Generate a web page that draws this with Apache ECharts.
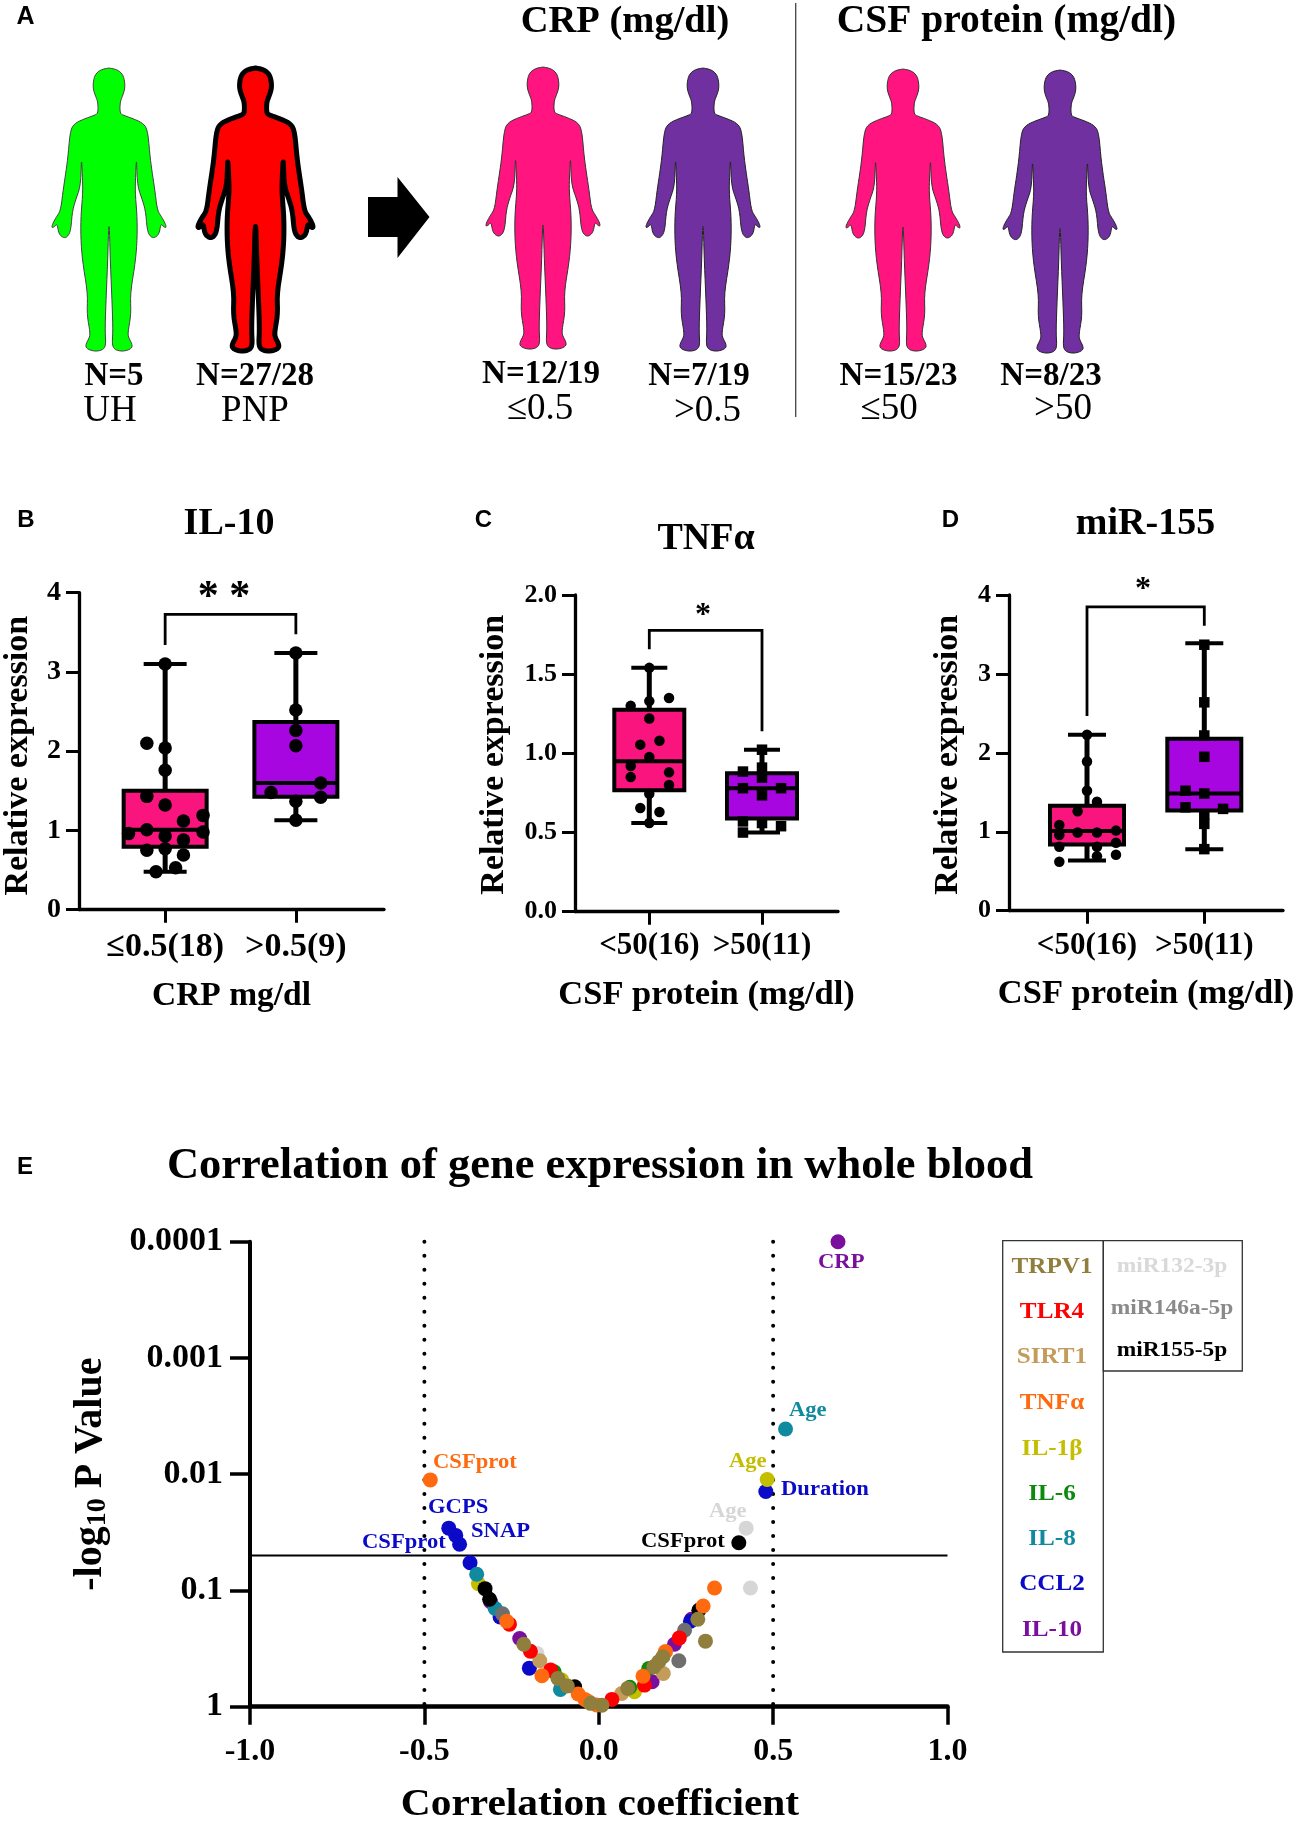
<!DOCTYPE html>
<html><head><meta charset="utf-8">
<style>html,body{margin:0;padding:0;background:#fff}#c{width:1299px;height:1823px}</style>
<script src="https://cdn.jsdelivr.net/npm/echarts@6/dist/echarts.min.js"></script>
</head><body><div id="c"></div>
<script>
// ---------- DATA ----------
const il10Categories = ['≤0.5(18)', '>0.5(9)'];
const tnfCategories = ['<50(16)', '>50(11)'];
const mirCategories = ['<50(16)', '>50(11)'];

// [group, min, q1, median, q3, max]
const il10Boxes = [[1, 0.48, 0.795, 1.01, 1.50, 3.10], [2, 1.13, 1.425, 1.60, 2.37, 3.24]];
const tnfBoxes = [[1, 0.56, 0.767, 0.95, 1.275, 1.54], [2, 0.50, 0.588, 0.78, 0.875, 1.023]];
const mirBoxes = [[1, 0.635, 0.84, 1.01, 1.33, 2.23], [2, 0.78, 1.27, 1.485, 2.18, 3.39]];

const il10Low = [[1,3.10],[1,2.04],[0.86,2.10],[1,1.76],[0.86,1.43],[1,1.32],[1.14,1.12],[1.29,1.19],[0.86,1.01],[0.72,0.96],[1.29,0.98],[1,0.93],[1.14,0.88],[0.86,0.75],[1,0.77],[1.14,0.69],[0.93,0.48],[1.08,0.53]];
const il10High = [[2,3.24],[2,2.52],[2,2.26],[2,2.07],[2.19,1.60],[1.81,1.48],[2.19,1.42],[2,1.37],[2,1.13]];
const tnfLow = [[1,1.54],[1,1.33],[1.175,1.35],[0.835,1.30],[1,1.22],[0.92,1.055],[1.09,1.08],[1,0.977],[0.835,0.92],[0.835,0.85],[1.175,0.88],[1.175,0.80],[1,0.745],[0.92,0.655],[1.09,0.63],[1,0.56]];
const tnfHigh = [[2,1.023],[2,0.91],[1.831,0.885],[2,0.847],[1.831,0.78],[2.169,0.78],[2,0.735],[1.831,0.57],[2,0.56],[2.169,0.54],[1.831,0.50]];
const mirLow = [[1,2.23],[1,1.89],[1,1.52],[1.085,1.38],[0.92,1.26],[0.764,1.085],[0.764,0.96],[0.92,0.99],[1.085,0.99],[1.247,1.015],[0.764,0.81],[1.085,0.81],[1.247,0.86],[1.085,0.69],[1.247,0.71],[0.764,0.62]];
const mirHigh = [[2,3.37],[2,2.64],[2,2.22],[2,1.95],[1.84,1.52],[2,1.485],[1.84,1.31],[2.16,1.29],[2,1.22],[2,1.10],[2,0.78]];

const il10Bracket = [[1,3.34],[1,3.727],[2,3.727],[2,3.475]];
const tnfBracket = [[1,1.657],[1,1.776],[2,1.776],[2,1.14]];
const mirBracket = [[1,2.466],[1,3.85],[2,3.85],[2,3.61]];

// [correlation coefficient, P value]
const miR132 = [[0.4227,0.0291],[0.435,0.0953],[-0.177,0.348]];
const miR146a = [[-0.276,0.159],[0.2296,0.403],[0.246,0.22]];
const miR155 = [[-0.326,0.0965],[-0.313,0.119],[-0.069,0.673],[0.287,0.148],[0.4016,0.0389]];
const il10 = [[-0.2266,0.259],[-0.31,0.125],[0.153,0.61],[0.217,0.29],[0.266,0.177],[0.686,0.0001]];
const ccl2 = [[-0.43,0.0291],[-0.41,0.0336],[-0.399,0.0401],[-0.369,0.0578],[-0.283,0.169],[-0.199,0.466],[0.263,0.184],[0.479,0.0141]];
const il8 = [[-0.35,0.0726],[-0.297,0.143],[-0.11,0.71],[0.5356,0.00408]];
const il6 = [[-0.128,0.5],[0.089,0.68],[0.1435,0.469]];
const il1b = [[-0.345,0.0875],[-0.106,0.59],[0.1024,0.743],[0.483,0.0111]];
const sirt1 = [[-0.169,0.403],[-0.03,0.9],[0.066,0.769],[0.185,0.518],[0.191,0.337]];
const tlr4 = [[-0.256,0.195],[-0.196,0.333],[-0.138,0.484],[0.0377,0.865],[0.131,0.652],[0.231,0.256]];
const tnfa = [[-0.483,0.0112],[-0.264,0.184],[-0.163,0.542],[-0.059,0.778],[-0.04,0.865],[-0.006,0.968],[0.127,0.546],[0.191,0.337],[0.2993,0.136],[0.332,0.0953]];
const trpv1 = [[-0.215,0.29],[-0.117,0.571],[-0.09,0.664],[-0.023,0.936],[0.009,0.97],[0.083,0.696],[0.158,0.454],[0.172,0.411],[0.184,0.372],[0.284,0.177],[0.306,0.273]];
const threshold = 0.05;
const rCuts = [-0.5, 0.5];
const pTicks = [0.0001, 0.001, 0.01, 0.1, 1];

// ---------- STYLE / LAYOUT ----------
const SERIF = '"Liberation Serif","Times New Roman",serif';
const SANS = '"Liberation Sans",Arial,sans-serif';
const PINK = '#F9147E', VIOLET = '#A806E0';
const geneColors = {TRPV1:'#8F7E3C',TLR4:'#FF0000',SIRT1:'#C39B5A',TNFa:'#FF6A10',IL1b:'#C4BE00',IL6:'#0B8A0B',IL8:'#108A9E',CCL2:'#0A0AC8',IL10:'#7A0F9E',miR132:'#D6D6D6',miR146:'#6E6E6E',miR155:'#000000'};

const grids = [], xAxes = [], yAxes = [], series = [], gfx = [];

function boxSeries(gi, boxes, colors, half, capHalf, lw) {
  return {
    type:'custom', xAxisIndex:gi, yAxisIndex:gi, data:boxes, clip:false, z:2,
    encode:{x:0, y:[1,2,3,4,5]},
    renderItem(params, api) {
      const x = api.value(0);
      const P = v => api.coord([x, v]);
      const lo = P(api.value(1)), q1 = P(api.value(2)), med = P(api.value(3)), q3 = P(api.value(4)), hi = P(api.value(5));
      const cx = lo[0];
      const ln = (x1,y1,x2,y2,w) => ({type:'line', shape:{x1,y1,x2,y2}, style:{stroke:'#000', lineWidth:w, fill:null}});
      return {type:'group', children:[
        ln(cx,hi[1],cx,lo[1],lw+1),
        ln(cx-capHalf,hi[1],cx+capHalf,hi[1],lw),
        ln(cx-capHalf,lo[1],cx+capHalf,lo[1],lw),
        {type:'rect', shape:{x:cx-half,y:q3[1],width:half*2,height:q1[1]-q3[1]}, style:{fill:colors[params.dataIndex], stroke:'#000', lineWidth:lw}},
        ln(cx-half,med[1],cx+half,med[1],lw)
      ]};
    }
  };
}

function boxPanel(cfg) {
  const gi = grids.length;
  const u = cfg.unit;
  grids.push({left:cfg.left, top:cfg.top, width:cfg.right-cfg.left, height:cfg.bottom-cfg.top});
  xAxes.push({gridIndex:gi, type:'value', min:1-(cfg.t1-cfg.left)/u, max:1+(cfg.right-cfg.t1)/u,
    name:cfg.xName, nameLocation:'middle', nameGap:cfg.xNameGap,
    nameTextStyle:{fontFamily:SERIF, fontWeight:'bold', fontSize:cfg.xNameSize, color:'#000'},
    axisLine:{onZero:false, lineStyle:{color:'#000', width:3.3}},
    axisTick:{customValues:[1,2], length:13, lineStyle:{color:'#000', width:3}},
    axisLabel:{customValues:[1,2], margin:cfg.xMargin, fontFamily:SERIF, fontWeight:'bold', fontSize:cfg.xLabelSize, color:'#000', formatter:v=>cfg.cats[Math.round(v)-1]},
    splitLine:{show:false}});
  yAxes.push({gridIndex:gi, type:'value', min:0, max:cfg.yMax, interval:cfg.yInt,
    name:'Relative expression', nameLocation:'middle', nameGap:cfg.yNameGap,
    nameTextStyle:{fontFamily:SERIF, fontWeight:'bold', fontSize:34, color:'#000', padding:[0,cfg.yNamePad,0,0]},
    axisLine:{onZero:false, lineStyle:{color:'#000', width:3.3}},
    axisTick:{length:13, lineStyle:{color:'#000', width:3}},
    axisLabel:{margin:18, fontFamily:SERIF, fontWeight:'bold', fontSize:cfg.yLabelSize, color:'#000', formatter:v=>cfg.yFix?v.toFixed(1):String(v)},
    splitLine:{show:false}});
  series.push(boxSeries(gi, cfg.boxes, [PINK, VIOLET], cfg.half, cfg.cap, cfg.lw));
  series.push({type:'scatter', xAxisIndex:gi, yAxisIndex:gi, data:cfg.low, symbol:'circle', symbolSize:cfg.sym, itemStyle:{color:'#000',opacity:1}, z:5, clip:false});
  series.push({type:'scatter', xAxisIndex:gi, yAxisIndex:gi, data:cfg.high, symbol:cfg.highSym, symbolSize:cfg.highSize, itemStyle:{color:'#000',opacity:1}, z:5, clip:false});
  series.push({type:'line', xAxisIndex:gi, yAxisIndex:gi, data:cfg.bracket, showSymbol:false, symbol:'none', clip:false, lineStyle:{color:'#000', width:cfg.brw, join:'miter'}, z:3});
}

boxPanel({left:76,right:384,top:592.7,bottom:909.7,t1:163,unit:132,cats:il10Categories,xName:'CRP mg/dl',xNameGap:70,xNameSize:33.5,xMargin:21,xLabelSize:34,yMax:4,yInt:1,yNameGap:44,yNamePad:9,yLabelSize:28,boxes:il10Boxes,low:il10Low,high:il10High,highSym:'circle',highSize:13.5,sym:13.5,half:41.5,cap:21.5,lw:4,brw:2.8,bracket:il10Bracket});
boxPanel({left:575,right:838,top:595,bottom:911.7,t1:649.3,unit:112.7,cats:tnfCategories,xName:'CSF protein (mg/dl)',xNameGap:66,xNameSize:34.5,xMargin:19,xLabelSize:31,yMax:2,yInt:0.5,yFix:true,yNameGap:64,yNamePad:3,yLabelSize:26,boxes:tnfBoxes,low:tnfLow,high:tnfHigh,highSym:'rect',highSize:10.5,sym:10.5,half:35,cap:18,lw:4,brw:2.8,bracket:tnfBracket});
boxPanel({left:1009,right:1283,top:595,bottom:910.7,t1:1087,unit:117.3,cats:mirCategories,xName:'CSF protein (mg/dl)',xNameGap:66,xNameSize:34.5,xMargin:20,xLabelSize:31,yMax:4,yInt:1,yNameGap:44,yNamePad:4,yLabelSize:26,boxes:mirBoxes,low:mirLow,high:mirHigh,highSym:'rect',highSize:10.5,sym:10.5,half:37,cap:19,lw:4,brw:2.8,bracket:mirBracket});

// ---------- PANEL E ----------
(function(){
  const gi = grids.length;
  grids.push({left:250, right:1299-947.5, top:1241.7, height:465});
  xAxes.push({gridIndex:gi, type:'value', min:-1, max:1, interval:0.5,
    axisLine:{onZero:false, lineStyle:{color:'#000', width:4.5}},
    axisTick:{length:18, lineStyle:{color:'#000', width:3.5}},
    axisLabel:{margin:29, fontFamily:SERIF, fontWeight:'bold', fontSize:32, color:'#000', formatter:v=>v.toFixed(1)},
    splitLine:{show:false}});
  yAxes.push({gridIndex:gi, type:'log', logBase:10, inverse:true, min:pTicks[0], max:pTicks[pTicks.length-1],
    name:'{m|-log}{s|10}{m| P Value}', nameLocation:'middle', nameGap:138, nameRotate:90,
    nameTextStyle:{rich:{m:{fontFamily:SERIF, fontWeight:'bold', fontSize:40, color:'#000'}, s:{fontFamily:SERIF, fontWeight:'bold', fontSize:28, color:'#000', verticalAlign:'bottom', padding:[14,0,0,0]}}},
    axisLine:{onZero:false, lineStyle:{color:'#000', width:4}},
    axisTick:{length:20, lineStyle:{color:'#000', width:3.5}},
    minorTick:{show:false},
    axisLabel:{margin:27, fontFamily:SERIF, fontWeight:'bold', fontSize:34, color:'#000', formatter:v=>String(+Number(v).toPrecision(1))},
    splitLine:{show:false}});
  // threshold and its tick
  series.push({type:'line', xAxisIndex:gi, yAxisIndex:gi, clip:false, symbol:'none', z:1, data:[[-1,threshold],[1,threshold]], lineStyle:{color:'#000',width:2}});
  series.push({type:'line', xAxisIndex:gi, yAxisIndex:gi, clip:false, symbol:'none', z:1, data:[[-1.06,threshold],[-1,threshold]], lineStyle:{color:'#000',width:3.5}});
  rCuts.forEach(r=>series.push({type:'line', xAxisIndex:gi, yAxisIndex:gi, clip:false, symbol:'none', z:1, data:[[r,pTicks[0]],[r,pTicks[4]]], lineStyle:{color:'#000',width:4,type:[0.01,14],cap:'round'}}));
  [[miR132,'miR132'],[il10,'IL10'],[ccl2,'CCL2'],[il1b,'IL1b'],[il6,'IL6'],[il8,'IL8'],[miR146a,'miR146'],[miR155,'miR155'],[sirt1,'SIRT1'],[tlr4,'TLR4'],[tnfa,'TNFa'],[trpv1,'TRPV1']].forEach(([d,k],i)=>{
    series.push({type:'scatter', name:k, xAxisIndex:gi, yAxisIndex:gi, data:d, symbol:'circle', symbolSize:15, clip:false, z:4, itemStyle:{color:geneColors[k],opacity:1}});
  });
})();

// ---------- GRAPHIC: text & panel A ----------
function T(text,x,y,size,opt){opt=opt||{};gfx.push({type:'text',silent:true,x,y,z:20,scaleX:opt.sx||1,style:{text,font:(opt.weight||'bold')+' '+size+'px '+(opt.family||SERIF),fill:opt.color||'#000',textAlign:opt.align||'center',textVerticalAlign:'middle'}});}

// panel letters
T('A',25.5,17.5,25,{family:SANS});T('B',26,520.5,24,{family:SANS});T('C',483.5,520.5,24,{family:SANS});T('D',950.5,520.5,24,{family:SANS});T('E',25,1167,24,{family:SANS});
// titles
T('IL-10',229,524,38);T('TNFα',706,539,38);T('miR-155',1145.5,524,38);
T('Correlation of gene expression in whole blood',600,1166,44.5);
T('Correlation coefficient',600,1805,38,{sx:1.09});
// stars
T('* *',224,598,42);T('*',703,616,32);T('*',1143,590,32);
// A headers
T('CRP (mg/dl)',625,22,38.5);T('CSF protein (mg/dl)',1006.5,22,39.5);
[['N=5',114,376],['N=27/28',255,376],['N=12/19',541,374],['N=7/19',699,376.5],['N=15/23',898.5,376],['N=8/23',1051,376]].forEach(a=>T(a[0],a[1],a[2],33));
[['UH',110,411],['PNP',255,411],['≤0.5',540,409],['>0.5',707.5,411],['≤50',889,409],['>50',1063,409]].forEach(a=>T(a[0],a[1],a[2],37,{weight:'normal'}));
gfx.push({type:'line',silent:true,shape:{x1:795.7,y1:3,x2:795.7,y2:417},style:{stroke:'#444',lineWidth:1.3}});
// arrow
gfx.push({type:'polygon',silent:true,shape:{points:[[368,197],[397.5,197],[397.5,177],[429.5,217],[397.5,258],[397.5,237],[368,237]]},style:{fill:'#000'}});

// body outline (right half, relative to centre line, top of head = 0)
const half=[[0,0],[8,1.5],[13.5,6],[15.6,13],[15.8,21],[13,29],[11,34],[10.8,45],[14,47],[24,50.5],[34,55],[38.5,62],[40.7,88],[43,105],[45.6,122],[48,142],[52,148],[56,155],[57,159.5],[54,158],[51.5,155],[50,165],[46,169],[42,169],[38,163],[36.5,143],[33,131],[28,117],[27.4,87],[26.3,110],[26,125],[28,148],[28,172],[26,195],[21,225],[22,245],[19,262],[19,268],[23.5,276],[22,280],[14,282.5],[6,281],[3,276],[4,262],[3,232],[1.2,190],[0.4,158]];
const outline=half.concat(half.slice().reverse().map(p=>[-p[0],p[1]]));
const bodyPts=(function(){
  const n=outline.length, out=[];
  const mid=(a,b)=>[(a[0]+b[0])/2,(a[1]+b[1])/2];
  for(let i=0;i<n;i++){
    const c=outline[i], a=mid(outline[(i-1+n)%n],c), b=mid(c,outline[(i+1)%n]);
    for(let k=0;k<4;k++){const t=k/4,u=1-t;out.push([u*u*a[0]+2*u*t*c[0]+t*t*b[0],u*u*a[1]+2*u*t*c[1]+t*t*b[1]]);}
  }
  return out;
})();
const bx0=Math.min(...bodyPts.map(p=>p[0])),bx1=Math.max(...bodyPts.map(p=>p[0])),by0=Math.min(...bodyPts.map(p=>p[1])),by1=Math.max(...bodyPts.map(p=>p[1]));
function body(x,y,w,h,fill,stroke,lw){gfx.push({type:'polygon',silent:true,shape:{points:bodyPts.map(p=>[x+(p[0]-bx0)/(bx1-bx0)*w,y+(p[1]-by0)/(by1-by0)*h])},style:{fill,stroke,lineWidth:lw,lineJoin:'round'}});}
body(52,68,114,283,'#00FF00','#444',1);
body(198,68,115,283,'#FF0000','#000',5);
body(486,67,114,282,'#FF1480','#333',1);
body(646,68,114,283,'#7030A0','#222',1);
body(846,69,114,282,'#FF1480','#333',1);
body(1003,70,114,283,'#7030A0','#222',1);

// E labels
[['CSFprot',433,1463,'TNFa'],['GCPS',428,1508,'CCL2'],['SNAP',471,1532,'CCL2'],['CSFprot',362,1543,'CCL2'],['Age',729,1462,'IL1b'],['Duration',781,1490,'CCL2'],['Age',709,1512,'miR132'],['CSFprot',641,1542,'miR155'],['Age',789,1411,'IL8'],['CRP',818,1263,'IL10']].forEach(a=>T(a[0],a[1],a[2],20,{align:'left',color:geneColors[a[3]],sx:1.13}));

// legend boxes
gfx.push({type:'rect',silent:true,shape:{x:1002.7,y:1240.7,width:100.6,height:411.3},style:{fill:'none',stroke:'#333',lineWidth:1.3}});
gfx.push({type:'rect',silent:true,shape:{x:1103.3,y:1240.7,width:139,height:130.3},style:{fill:'none',stroke:'#333',lineWidth:1.3}});
[['TRPV1',1267,'TRPV1'],['TLR4',1312,'TLR4'],['SIRT1',1357,'SIRT1'],['TNFα',1403,'TNFa'],['IL-1β',1449,'IL1b'],['IL-6',1494,'IL6'],['IL-8',1539,'IL8'],['CCL2',1584,'CCL2'],['IL-10',1630,'IL10']].forEach(a=>T(a[0],1052,a[1],23.5,{color:geneColors[a[2]],sx:1.07}));
T('miR132-3p',1172,1266,21.5,{color:'#D9D9D9',sx:1.09});T('miR146a-5p',1172,1308,21.5,{color:'#8A8A8A',sx:1.09});T('miR155-5p',1172,1350,21.5,{color:'#000',sx:1.09});

const chart=echarts.init(document.getElementById('c'),null,{width:1299,height:1823,renderer:'canvas'});
chart.setOption({animation:false,backgroundColor:'#fff',grid:grids,xAxis:xAxes,yAxis:yAxes,series,graphic:{elements:gfx}});
</script></body></html>
